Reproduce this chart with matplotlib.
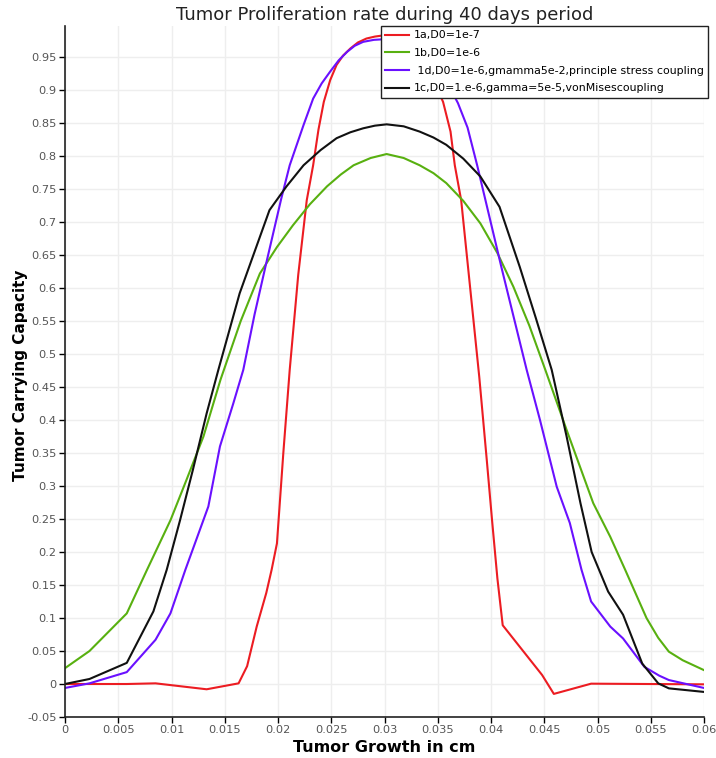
import matplotlib
matplotlib.use("Agg")
import matplotlib.pyplot as plt

# ---- data ----
red_x = [0, 0.0023, 0.0058, 0.0085, 0.0133, 0.0163, 0.0171, 0.018, 0.0189, 0.0194, 0.0199,
         0.0205, 0.0211, 0.0219, 0.0227, 0.0233, 0.0238, 0.0243, 0.0249, 0.0255, 0.0261,
         0.0268, 0.0275, 0.0283, 0.0291, 0.03, 0.0308, 0.0316, 0.0324, 0.0331, 0.0338,
         0.0344, 0.035, 0.0355, 0.0362, 0.0366, 0.0372, 0.038, 0.0389, 0.0396, 0.0401,
         0.0406, 0.0411, 0.0448, 0.0459, 0.0494, 0.06]
red_y = [0, 0, 0, 0.001, -0.008, 0.001, 0.027, 0.087, 0.138, 0.173, 0.213,
         0.35, 0.476, 0.62, 0.733, 0.786, 0.84, 0.882, 0.915, 0.938, 0.952,
         0.963, 0.972, 0.978, 0.981, 0.983, 0.982, 0.978, 0.97, 0.957, 0.94,
         0.92, 0.9, 0.882, 0.837, 0.786, 0.733, 0.607, 0.465, 0.34, 0.248,
         0.16, 0.089, 0.0136, -0.015, 0.0005, -0.0005]

green_x = [0, 0.0023, 0.0058, 0.0077, 0.0099, 0.0114, 0.013, 0.0146, 0.0165, 0.0183,
           0.0199, 0.0214, 0.023, 0.0246, 0.0259, 0.0271, 0.0287, 0.0302, 0.0318, 0.0333,
           0.0346, 0.0358, 0.0374, 0.039, 0.0406, 0.0421, 0.0436, 0.0451, 0.0471, 0.0496,
           0.0512, 0.0526, 0.0546, 0.0557, 0.0567, 0.058, 0.06]
green_y = [0.024, 0.05, 0.107, 0.173, 0.248, 0.309, 0.375, 0.461, 0.55, 0.622,
           0.662, 0.695, 0.727, 0.754, 0.772, 0.786, 0.797, 0.803, 0.797, 0.786,
           0.774, 0.759, 0.732, 0.698, 0.653, 0.602, 0.543, 0.476, 0.385, 0.274,
           0.223, 0.173, 0.1, 0.07, 0.049, 0.036, 0.021]

blue_x = [0, 0.0023, 0.0058, 0.0085, 0.0099, 0.0113, 0.01346, 0.01455, 0.0158, 0.01674,
          0.0178, 0.0189, 0.0203, 0.0211, 0.0224, 0.0233, 0.0241, 0.0249, 0.0257, 0.0265,
          0.0272, 0.028, 0.029, 0.03, 0.031, 0.032, 0.0328, 0.0337, 0.0345, 0.0353,
          0.0361, 0.0369, 0.0378, 0.0387, 0.041, 0.04335, 0.0446, 0.04617, 0.0474, 0.0485,
          0.0494, 0.0512, 0.0524, 0.0544, 0.0558, 0.0567, 0.06]
blue_y = [-0.006, 0.001, 0.018, 0.067, 0.107, 0.173, 0.269, 0.36, 0.425, 0.476,
          0.56, 0.638, 0.735, 0.786, 0.847, 0.887, 0.91, 0.928, 0.945, 0.958,
          0.967, 0.973, 0.976, 0.977, 0.976, 0.972, 0.966, 0.956, 0.943, 0.926,
          0.905, 0.88, 0.843, 0.786, 0.63, 0.476, 0.4, 0.299, 0.244, 0.173,
          0.125, 0.087, 0.069, 0.026, 0.0126, 0.006, -0.006]

black_x = [0, 0.0023, 0.0058, 0.0083, 0.00955, 0.0108, 0.012, 0.0133, 0.0144, 0.0164,
           0.0178, 0.0192, 0.0208, 0.0224, 0.024, 0.0255, 0.0268, 0.028, 0.0291, 0.0302,
           0.0318, 0.0333, 0.0346, 0.0358, 0.0374, 0.039, 0.0408, 0.0427, 0.0442, 0.0457,
           0.0471, 0.0484, 0.04945, 0.051, 0.0524, 0.0542, 0.0557, 0.0567, 0.06]
black_y = [0, 0.0076, 0.032, 0.11, 0.173, 0.248, 0.324, 0.41, 0.476, 0.592,
           0.655, 0.718, 0.754, 0.786, 0.809, 0.827, 0.836, 0.842, 0.846, 0.848,
           0.845, 0.837, 0.828, 0.817, 0.796, 0.769, 0.723, 0.632, 0.555, 0.476,
           0.375, 0.274, 0.2, 0.14, 0.105, 0.031, 0.001, -0.0066, -0.012]

labels = ["1a,D0=1e-7", "1b,D0=1e-6",
          " 1d,D0=1e-6,gmamma5e-2,principle stress coupling",
          "1c,D0=1.e-6,gamma=5e-5,vonMisescoupling"]

x_ticks = [0, 0.005, 0.01, 0.015, 0.02, 0.025, 0.03, 0.035, 0.04, 0.045, 0.05, 0.055, 0.06]
y_ticks = [-0.05, 0, 0.05, 0.1, 0.15, 0.2, 0.25, 0.3, 0.35, 0.4, 0.45, 0.5, 0.55, 0.6,
           0.65, 0.7, 0.75, 0.8, 0.85, 0.9, 0.95]

title = "Tumor Proliferation rate during 40 days period"
xlabel = "Tumor Growth in cm"
ylabel = "Tumor Carrying Capacity"

# ---- plot ----
plt.rcParams['font.family'] = ['DejaVu Sans']
fig = plt.figure(figsize=(7.16, 7.58), dpi=100)
ax = fig.add_axes([65/716, 1 - 717/758, (704-65)/716, (717-26)/758])

lw = 1.5
l1, = ax.plot(red_x, red_y, color='#ec1c22', lw=lw, label=labels[0])
l2, = ax.plot(green_x, green_y, color='#58b010', lw=lw, label=labels[1])
l3, = ax.plot(blue_x, blue_y, color='#6a10ff', lw=lw, label=labels[2])
l4, = ax.plot(black_x, black_y, color='#111111', lw=lw, label=labels[3])

ax.set_xlim(0, 0.06)
ax.set_ylim(-0.05, 0.997)
ax.set_xticks(x_ticks)
ax.set_yticks(y_ticks)
ax.set_xticklabels(['%g' % v for v in x_ticks])
ax.set_yticklabels(['%g' % v for v in y_ticks])
ax.tick_params(axis='both', labelsize=8.2, labelcolor='#555555', length=4, width=1,
               direction='out', pad=2)

ax.grid(True, color='#eeeeee', lw=1)
ax.set_axisbelow(True)
for s in ['top', 'right']:
    ax.spines[s].set_visible(False)
for s in ['left', 'bottom']:
    ax.spines[s].set_linewidth(1.2)
    ax.spines[s].set_color('#222222')

ax.set_title(title, fontsize=13, pad=4, color='#222222')
ax.set_xlabel(xlabel, fontsize=11.5, fontweight='bold', va='center')
ax.xaxis.set_label_coords((384 - 65) / 639, (717 - 747) / 691)
ax.set_ylabel(ylabel, fontsize=11, fontweight='bold', va='center')
ax.yaxis.set_label_coords((21 - 65) / 639, (717 - 375) / 691)

leg = fig.legend(handles=[l1, l2, l3, l4], loc='upper right',
                 bbox_to_anchor=(708/716, 1 - 26/758), fontsize=7.9,
                 frameon=True, fancybox=False, shadow=False, framealpha=1,
                 edgecolor='#222222', borderpad=0.4, labelspacing=0.7,
                 handlelength=2.2, handletextpad=0.4, borderaxespad=0)
leg.get_frame().set_linewidth(1.0)

fig.savefig('out.png', dpi=100)
